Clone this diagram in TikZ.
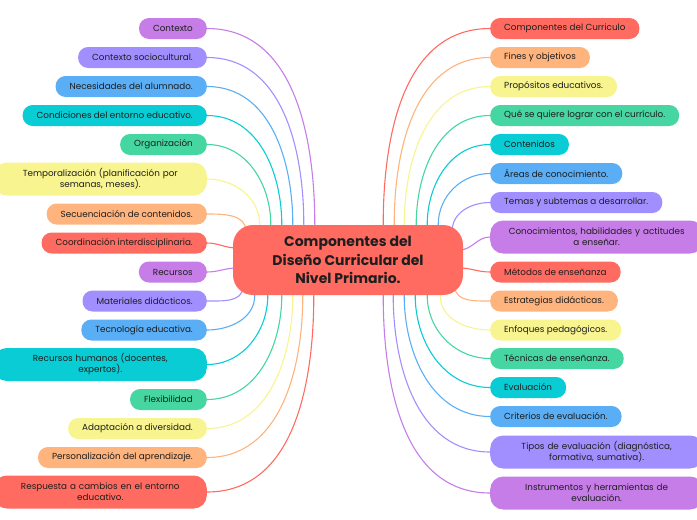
\documentclass[tikz,border=0pt]{standalone}
\usepackage{fontspec}
\setmainfont{Poppins}
\usepackage{tikz}
\usetikzlibrary{calc,backgrounds}

\definecolor{mmred}{HTML}{FF6B61}
\definecolor{mmorange}{HTML}{FFB37D}
\definecolor{mmyellow}{HTML}{F8F48F}
\definecolor{mmgreen}{HTML}{45D6A2}
\definecolor{mmcyan}{HTML}{0ACCD4}
\definecolor{mmblue}{HTML}{5AAEF6}
\definecolor{mmlavender}{HTML}{A28FFF}
\definecolor{mmpurple}{HTML}{C67DE8}
\definecolor{mmtext}{HTML}{1E1E1E}

\tikzset{
  topic/.style={fill=#1, rounded corners=10pt, minimum height=21pt,
    inner xsep=14pt, inner ysep=2pt, text=mmtext,
    font=\fontsize{8.8}{11}\selectfont},
  twoline/.style={text width=185pt, align=center, minimum height=33pt,
    rounded corners=13pt},
  link/.style={draw=#1, line width=1.1pt},
}

\begin{document}
\begin{tikzpicture}[x=1pt,y=1pt]
            \useasboundingbox (0,0) rectangle (697,-520);
            % central topic
            \node [fill=mmred, rounded corners=20pt, minimum width=230pt, minimum height=70pt,
                   align=center, text=mmtext, font=\fontsize{14}{18.5}\selectfont\bfseries]
                   (core) at (348,-260) {Componentes del\\Diseño Curricular del\\Nivel Primario.};
            % left branch
            \node [topic=mmpurple, anchor=east] (l1) at (207,-28.5) {Contexto};
            \node [topic=mmlavender, anchor=east] (l2) at (207,-57.5) {Contexto sociocultural.};
            \node [topic=mmblue, anchor=east] (l3) at (207,-86.5) {Necesidades del alumnado.};
            \node [topic=mmcyan, anchor=east] (l4) at (207,-115.5) {Condiciones del entorno educativo.};
            \node [topic=mmgreen, anchor=east] (l5) at (207,-144.5) {Organización};
            \node [topic=mmyellow, twoline, anchor=east] (l6) at (207,-179) {Temporalización (planificación por\\semanas, meses).};
            \node [topic=mmorange, anchor=east] (l7) at (207,-214) {Secuenciación de contenidos.};
            \node [topic=mmred, anchor=east] (l8) at (207,-243) {Coordinación interdisciplinaria.};
            \node [topic=mmpurple, anchor=east] (l9) at (207,-272) {Recursos};
            \node [topic=mmlavender, anchor=east] (l10) at (207,-301) {Materiales didácticos.};
            \node [topic=mmblue, anchor=east] (l11) at (207,-330) {Tecnología educativa.};
            \node [topic=mmcyan, twoline, anchor=east] (l12) at (207,-364.5) {Recursos humanos (docentes,\\expertos).};
            \node [topic=mmgreen, anchor=east] (l13) at (207,-399.5) {Flexibilidad};
            \node [topic=mmyellow, anchor=east] (l14) at (207,-428.5) {Adaptación a diversidad.};
            \node [topic=mmorange, anchor=east] (l15) at (207,-457.5) {Personalización del aprendizaje.};
            \node [topic=mmred, twoline, anchor=east] (l16) at (207,-492) {Respuesta a cambios en el entorno\\educativo.};
            % right branch
            \node [topic=mmred, anchor=west] (r1) at (490,-28.5) {Componentes del Curriculo};
            \node [topic=mmorange, anchor=west] (r2) at (490,-57.5) {Fines y objetivos};
            \node [topic=mmyellow, anchor=west] (r3) at (490,-86.5) {Propósitos educativos.};
            \node [topic=mmgreen, anchor=west] (r4) at (490,-115.5) {Qué se quiere lograr con el currículo.};
            \node [topic=mmcyan, anchor=west] (r5) at (490,-144.5) {Contenidos};
            \node [topic=mmblue, anchor=west] (r6) at (490,-173.5) {Áreas de conocimiento.};
            \node [topic=mmlavender, anchor=west] (r7) at (490,-202.5) {Temas y subtemas a desarrollar.};
            \node [topic=mmpurple, twoline, anchor=west] (r8) at (490,-237) {Conocimientos, habilidades y actitudes\\a enseñar.};
            \node [topic=mmred, anchor=west] (r9) at (490,-272) {Métodos de enseñanza};
            \node [topic=mmorange, anchor=west] (r10) at (490,-301) {Estrategias didácticas.};
            \node [topic=mmyellow, anchor=west] (r11) at (490,-330) {Enfoques pedagógicos.};
            \node [topic=mmgreen, anchor=west] (r12) at (490,-358.5) {Técnicas de enseñanza.};
            \node [topic=mmcyan, anchor=west] (r13) at (490,-387.5) {Evaluación};
            \node [topic=mmblue, anchor=west] (r14) at (490,-416.5) {Criterios de evaluación.};
            \node [topic=mmlavender, twoline, anchor=west] (r15) at (490,-452) {Tipos de evaluación (diagnóstica,\\formativa, sumativa).};
            \node [topic=mmpurple, twoline, anchor=west] (r16) at (490,-493) {Instrumentos y herramientas de\\evaluación.};
            % connectors
            \begin{scope}[on background layer]
                \draw [link=mmpurple] ($(core.north west)+(82,0)$) to[out=90,in=0] (l1.east);
                \draw [link=mmlavender] ($(core.north west)+(71,0)$) to[out=90,in=0] (l2.east);
                \draw [link=mmblue] ($(core.north west)+(60,0)$) to[out=90,in=0] (l3.east);
                \draw [link=mmcyan] ($(core.north west)+(49,0)$) to[out=90,in=0] (l4.east);
                \draw [link=mmgreen] ($(core.north west)+(38,0)$) to[out=90,in=0] (l5.east);
                \draw [link=mmyellow] ($(core.north west)+(27,0)$) to[out=90,in=0] (l6.east);
                \draw [link=mmorange] ($(core.north west)+(13,-6)$) to[out=90,in=0] (l7.east);
                \draw [link=mmred] ($(core.west)+(4,12)$) to[out=180,in=0] (l8.east);
                \draw [link=mmpurple] ($(core.west)+(4,-8)$) to[out=180,in=0] (l9.east);
                \draw [link=mmlavender] ($(core.south west)+(10,8)$) to[out=270,in=0] (l10.east);
                \draw [link=mmblue] ($(core.south west)+(22,0)$) to[out=270,in=0] (l11.east);
                \draw [link=mmcyan] ($(core.south west)+(35,0)$) to[out=270,in=0] (l12.east);
                \draw [link=mmgreen] ($(core.south west)+(49,0)$) to[out=270,in=0] (l13.east);
                \draw [link=mmyellow] ($(core.south west)+(60,0)$) to[out=270,in=0] (l14.east);
                \draw [link=mmorange] ($(core.south west)+(70,0)$) to[out=270,in=0] (l15.east);
                \draw [link=mmred] ($(core.south west)+(81,0)$) to[out=270,in=0] (l16.east);
                \draw [link=mmred] ($(core.north east)+(-80,0)$) to[out=90,in=180] (r1.west);
                \draw [link=mmorange] ($(core.north east)+(-69,0)$) to[out=90,in=180] (r2.west);
                \draw [link=mmyellow] ($(core.north east)+(-59,0)$) to[out=90,in=180] (r3.west);
                \draw [link=mmgreen] ($(core.north east)+(-47,0)$) to[out=90,in=180] (r4.west);
                \draw [link=mmcyan] ($(core.north east)+(-36,0)$) to[out=90,in=180] (r5.west);
                \draw [link=mmblue] ($(core.north east)+(-25,0)$) to[out=90,in=180] (r6.west);
                \draw [link=mmlavender] ($(core.north east)+(-11,-6)$) to[out=90,in=180] (r7.west);
                \draw [link=mmpurple] ($(core.east)+(-4,10)$) to[out=0,in=180] (r8.west);
                \draw [link=mmred] ($(core.east)+(-4,-8)$) to[out=0,in=180] (r9.west);
                \draw [link=mmorange] ($(core.south east)+(-8,8)$) to[out=270,in=180] (r10.west);
                \draw [link=mmyellow] ($(core.south east)+(-23,0)$) to[out=270,in=180] (r11.west);
                \draw [link=mmgreen] ($(core.south east)+(-36,0)$) to[out=270,in=180] (r12.west);
                \draw [link=mmcyan] ($(core.south east)+(-48,0)$) to[out=270,in=180] (r13.west);
                \draw [link=mmblue] ($(core.south east)+(-59,0)$) to[out=270,in=180] (r14.west);
                \draw [link=mmlavender] ($(core.south east)+(-70,0)$) to[out=270,in=180] (r15.west);
                \draw [link=mmpurple] ($(core.south east)+(-80,0)$) to[out=270,in=180] (r16.west);
            \end{scope}
        \end{tikzpicture}
\end{document}
